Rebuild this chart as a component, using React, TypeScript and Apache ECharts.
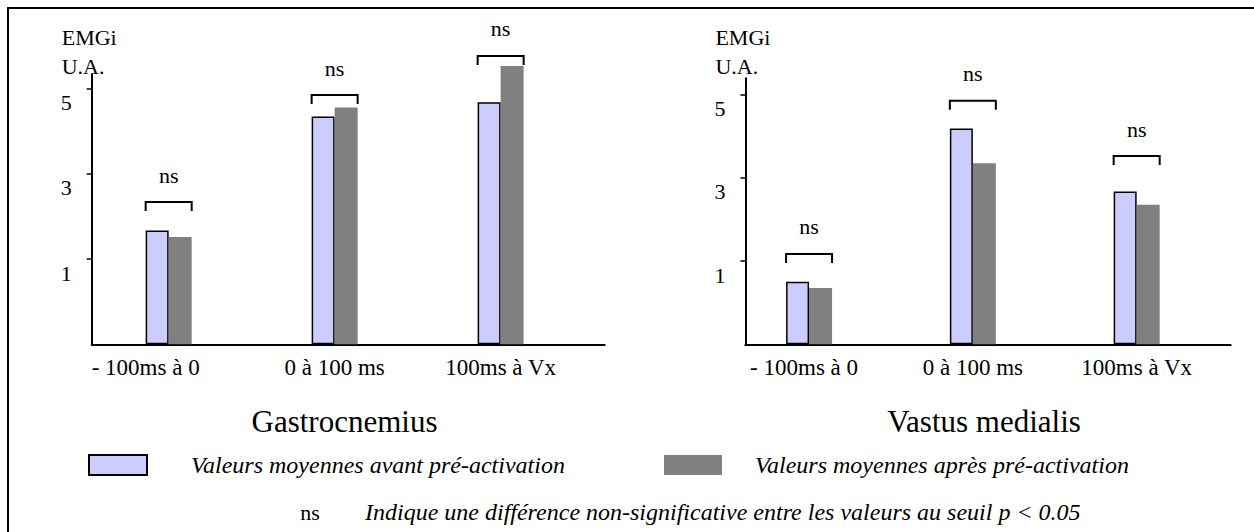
import React, { useEffect, useRef } from 'react';
import * as echarts from 'echarts';

const CATEGORIES = ['- 100ms à 0', '0 à 100 ms', '100ms à Vx'];
const SERIES_NAMES = ['Valeurs moyennes avant pré-activation', 'Valeurs moyennes après pré-activation'];
const GASTRO_AVANT = [1.67, 4.35, 4.68];
const GASTRO_APRES = [1.52, 4.56, 5.53];
const VASTUS_AVANT = [0.5, 4.18, 2.67];
const VASTUS_APRES = [0.35, 3.35, 2.35];
const GASTRO_NS_LEVEL = [2.34, 4.85, 5.77];
const VASTUS_NS_LEVEL = [1.17, 4.85, 3.52];
const NS_LABEL = 'ns';
const Y_TICKS = [1, 3, 5];
const Y_MIN = -1;
const PANEL_TITLES = ['Gastrocnemius', 'Vastus medialis'];
const Y_NAME_LINES = ['EMGi', 'U.A.'];
const FOOTNOTE = 'Indique une différence non-significative entre les valeurs au seuil p < 0.05';

const FONT = 'Liberation Serif';
const LIGHT = '#CCCCFF';
const DARK = '#808080';
const BAR_W = 23;

const PANELS = [
  {
    grid: { left: 91.7, right: 649.3, top: 74, bottom: 187.7 },
    xMin: -0.4637, xMax: 2.627, yMax: 5.345, firstLabelPad: 46,
    avant: GASTRO_AVANT, apres: GASTRO_APRES, ns: GASTRO_NS_LEVEL,
  },
  {
    grid: { left: 745.4, right: 23.4, top: 78.3, bottom: 187.7 },
    xMin: -0.3887, xMax: 2.5735, yMax: 5.387, firstLabelPad: 10,
    avant: VASTUS_AVANT, apres: VASTUS_APRES, ns: VASTUS_NS_LEVEL,
  },
];

function buildOption() {
  const grids: any[] = [];
  const xAxes: any[] = [];
  const yAxes: any[] = [];
  const series: any[] = [];
  PANELS.forEach((p, i) => {
    grids.push({ ...p.grid, outerBoundsMode: 'none', containLabel: false });
    const labelBase = { fontSize: 23, fontFamily: FONT, color: '#000' };
    xAxes.push({
      type: 'value', gridIndex: i, min: p.xMin, max: p.xMax,
      axisLine: { show: true, onZero: false, lineStyle: { color: '#000', width: 2 } },
      axisTick: { show: false },
      splitLine: { show: false },
      axisLabel: {
        customValues: [0, 1, 2],
        formatter: (v: number) => {
          const k = Math.round(v);
          const t = CATEGORIES[k] ?? '';
          return k === 0 ? `{first|${t}}` : `{c|${t}}`;
        },
        ...labelBase, margin: 12,
        rich: {
          first: { ...labelBase, padding: [0, p.firstLabelPad, 0, 0] },
          c: { ...labelBase },
        },
      },
    });
    yAxes.push({
      type: 'value', gridIndex: i, min: Y_MIN, max: p.yMax, startValue: Y_MIN,
      axisLine: { show: true, onZero: false, lineStyle: { color: '#000', width: 2 } },
      axisTick: { show: true, customValues: Y_TICKS, length: 5, lineStyle: { color: '#000', width: 1.5 } },
      splitLine: { show: false },
      axisLabel: {
        customValues: Y_TICKS,
        fontSize: 22, fontFamily: FONT, color: '#000', margin: 20,
        verticalAlign: 'top', padding: [3, 0, 0, 0],
      },
      name: Y_NAME_LINES.map((l) => `{a|${l}}`).join('\n'),
      nameLocation: 'end',
      nameGap: p.grid.top - 22.5,
      nameMoveOverlap: false,
      nameTextStyle: {
        align: 'center', verticalAlign: 'top', fontFamily: FONT,
        rich: { a: { width: 60, align: 'left', fontSize: 22, lineHeight: 29, fontFamily: FONT, color: '#000' } },
      },
    });
    series.push({
      name: SERIES_NAMES[0], type: 'bar', xAxisIndex: i, yAxisIndex: i,
      barWidth: BAR_W, barGap: '0%', clip: false,
      itemStyle: { color: LIGHT, borderColor: '#000', borderWidth: 1.5 },
      data: p.avant.map((v, k) => [k, v]),
    });
    series.push({
      name: SERIES_NAMES[1], type: 'bar', xAxisIndex: i, yAxisIndex: i,
      barWidth: BAR_W, barGap: '0%', clip: false,
      itemStyle: { color: DARK },
      data: p.apres.map((v, k) => [k, v]),
    });
    series.push({
      name: NS_LABEL, type: 'custom', xAxisIndex: i, yAxisIndex: i, clip: false,
      data: p.ns.map((v, k) => [k, v]),
      renderItem: (_params: any, api: any) => {
        const c = api.coord([api.value(0), api.value(1)]);
        const half = BAR_W;
        const drop = 9;
        return {
          type: 'group',
          children: [
            {
              type: 'polyline',
              shape: { points: [[c[0] - half, c[1] + drop], [c[0] - half, c[1]], [c[0] + half, c[1]], [c[0] + half, c[1] + drop]] },
              style: { stroke: '#000', lineWidth: 2, fill: null },
            },
            {
              type: 'text', x: c[0], y: c[1] - 27,
              style: {
                text: NS_LABEL, fontSize: 22, fontFamily: FONT, fill: '#000',
                align: 'center', verticalAlign: 'middle', textAlign: 'center', textVerticalAlign: 'middle',
              },
            },
          ],
        };
      },
    });
  });

  const legendBase = {
    orient: 'horizontal', padding: 0, itemWidth: 58, itemHeight: 20, icon: 'rect', selectedMode: false, top: 453,
  };
  const textBase = { fontSize: 24, fontStyle: 'italic', fontFamily: FONT, color: '#000' };

  return {
    animation: false,
    textStyle: { fontFamily: FONT },
    grid: grids,
    xAxis: xAxes,
    yAxis: yAxes,
    series,
    legend: [
      { ...legendBase, left: 88, data: [SERIES_NAMES[0]], textStyle: { ...textBase, padding: [0, 0, 0, 39] } },
      { ...legendBase, left: 664, data: [SERIES_NAMES[1]], textStyle: { ...textBase, padding: [0, 0, 0, 28] } },
    ],
    graphic: [
      {
        type: 'text', x: 344.5, y: 421.8,
        style: { text: PANEL_TITLES[0], fontSize: 31, fontFamily: FONT, fill: '#000', align: 'center', verticalAlign: 'middle', textAlign: 'center', textVerticalAlign: 'middle' },
      },
      {
        type: 'text', x: 984, y: 421.5,
        style: { text: PANEL_TITLES[1], fontSize: 31, fontFamily: FONT, fill: '#000', align: 'center', verticalAlign: 'middle', textAlign: 'center', textVerticalAlign: 'middle' },
      },
      {
        type: 'text', x: 310, y: 512,
        style: { text: NS_LABEL, fontSize: 22, fontFamily: FONT, fill: '#000', align: 'center', verticalAlign: 'middle', textAlign: 'center', textVerticalAlign: 'middle' },
      },
      {
        type: 'text', x: 365, y: 512,
        style: { text: FOOTNOTE, fontSize: 24, fontStyle: 'italic', fontFamily: FONT, fill: '#000', align: 'left', verticalAlign: 'middle', textAlign: 'left', textVerticalAlign: 'middle' },
      },
    ],
  };
}

export default function App() {
  const ref = useRef<HTMLDivElement>(null);
  useEffect(() => {
    if (!ref.current) return;
    const chart = echarts.init(ref.current, undefined, { renderer: 'svg' });
    chart.setOption(buildOption() as any);
    return () => chart.dispose();
  }, []);
  return (
    <div style={{ position: 'fixed', left: 0, top: 0, width: 1254, height: 532, background: '#fff', overflow: 'hidden' }}>
      <div
        style={{
          position: 'absolute', left: 7, top: 7, width: 1300, height: 600,
          borderLeft: '2px solid #000', borderTop: '2px solid #000',
        }}
      />
      <div ref={ref} style={{ position: 'absolute', left: 0, top: 0, width: 1254, height: 532 }} />
    </div>
  );
}
